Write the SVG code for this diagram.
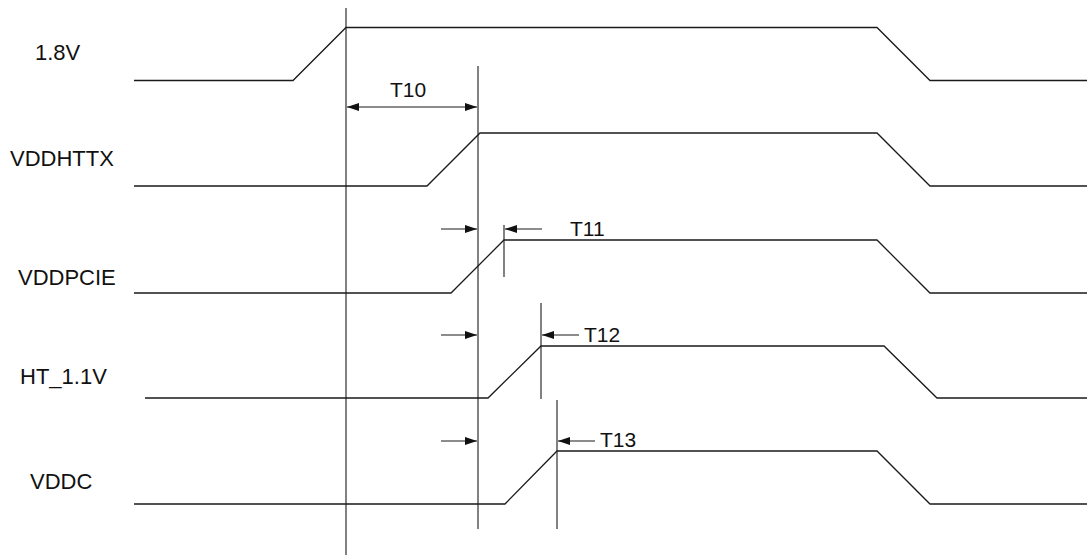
<svg xmlns="http://www.w3.org/2000/svg" width="1087" height="558" viewBox="0 0 1087 558">
<defs>
<style>
.w{fill:none;stroke:#1a1a1a;stroke-width:1.3}
.g{fill:none;stroke:#1a1a1a;stroke-width:1.1}
.a{fill:none;stroke:#1a1a1a;stroke-width:1.1;marker-end:url(#ah)}
.d{fill:none;stroke:#1a1a1a;stroke-width:1.1;marker-start:url(#ahs);marker-end:url(#ah)}
text{font-family:"Liberation Sans",Arial,sans-serif;font-size:21px;fill:#111}
.n{font-size:22px}
</style>
<marker id="ah" viewBox="0 0 12 8" refX="12" refY="4" markerWidth="12" markerHeight="8" markerUnits="userSpaceOnUse" orient="auto"><path d="M0,0L12,4L0,8z" fill="#111"/></marker>
<marker id="ahs" viewBox="0 0 12 8" refX="0" refY="4" markerWidth="12" markerHeight="8" markerUnits="userSpaceOnUse" orient="auto"><path d="M12,0L0,4L12,8z" fill="#111"/></marker>
</defs>
<rect width="1087" height="558" fill="#fff"/>
<g id="sig-18v">
<path class="w" d="M134,80.5H293L346,27.5H877L930,80.5H1087"/>
<text class="n" x="35" y="60">1.8V</text>
</g>
<g id="sig-vddhttx">
<path class="w" d="M134,186H427L480,133H877L930,186H1087"/>
<text class="n" x="10" y="166">VDDHTTX</text>
</g>
<g id="sig-vddpcie">
<path class="w" d="M134,293H451L504,240H877L930,293H1087"/>
<text class="n" x="18" y="285">VDDPCIE</text>
</g>
<g id="sig-ht11v">
<path class="w" d="M145,398H488L541,346H884L937,398H1087"/>
<text class="n" x="20" y="384">HT_1.1V</text>
</g>
<g id="sig-vddc">
<path class="w" d="M134,504H505L557,451H877L930,504H1087"/>
<text class="n" x="30" y="489">VDDC</text>
</g>
<g id="connectors">
<path class="g" d="M346,8V555"/>
<path class="g" d="M478,66V529"/>
<path class="g" d="M504,225V277"/>
<path class="g" d="M541,303V399"/>
<path class="g" d="M557,400V529"/>
<path class="d" d="M347,107H477"/>
<path class="a" d="M441,229H477"/>
<path class="a" d="M542,229H505"/>
<path class="a" d="M441,335H477"/>
<path class="a" d="M579,335H542"/>
<path class="a" d="M441,441H477"/>
<path class="a" d="M595,441H558"/>
</g>
<g id="labels">
<text x="390" y="97">T10</text>
<text x="570" y="236">T11</text>
<text x="584" y="342">T12</text>
<text x="600" y="447">T13</text>
</g>
</svg>
